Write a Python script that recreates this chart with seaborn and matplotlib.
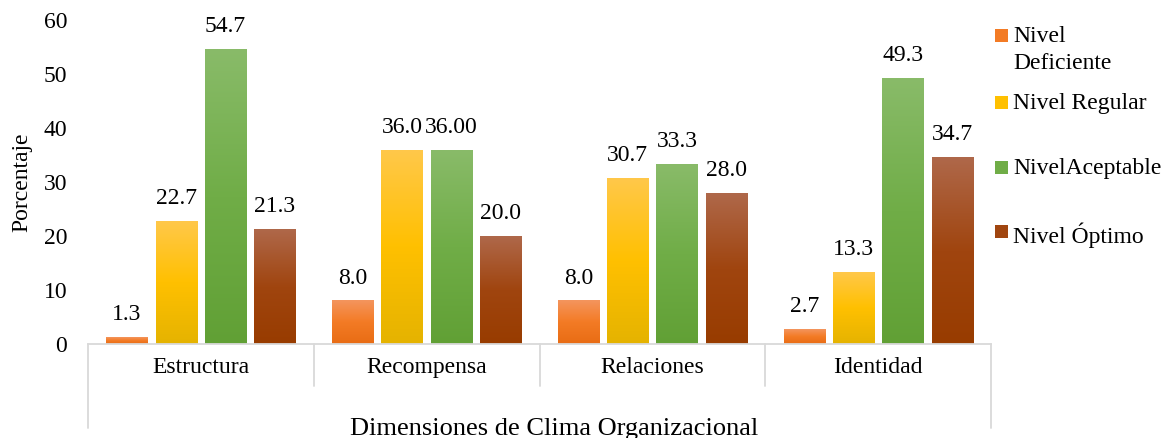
import numpy as np
import pandas as pd
import matplotlib
matplotlib.use("Agg")
import matplotlib.pyplot as plt
from matplotlib.colors import LinearSegmentedColormap
from matplotlib.patches import Rectangle
from matplotlib.transforms import blended_transform_factory
import seaborn as sns

# --- data -------------------------------------------------------------
dimensiones = ["Estructura", "Recompensa", "Relaciones", "Identidad"]
niveles = ["Nivel\nDeficiente", "Nivel Regular", "NivelAceptable", "Nivel Óptimo"]

deficiente = [1.3, 8.0, 8.0, 2.7]
regular = [22.7, 36.0, 30.7, 13.3]
aceptable = [54.7, 36.0, 33.3, 49.3]
optimo = [21.3, 20.0, 28.0, 34.7]

etiquetas = [
    ["1.3", "8.0", "8.0", "2.7"],
    ["22.7", "36.0", "30.7", "13.3"],
    ["54.7", "36.00", "33.3", "49.3"],
    ["21.3", "20.0", "28.0", "34.7"],
]

y_ticks = [0, 10, 20, 30, 40, 50, 60]

# gradient stops per series: (bottom, middle, top)
gradientes = [
    ("#E86C14", "#F37B25", "#F4955E"),
    ("#E5B300", "#FFC000", "#FFC84A"),
    ("#61A035", "#70AD47", "#89BB69"),
    ("#983C00", "#A0450F", "#AF684A"),
]

df = pd.DataFrame({
    "Dimension": np.tile(dimensiones, len(niveles)),
    "Nivel": np.repeat(niveles, len(dimensiones)),
    "Porcentaje": deficiente + regular + aceptable + optimo,
})

# --- style ------------------------------------------------------------
sns.set_theme(style="white")
plt.rcParams["font.family"] = ["Liberation Serif", "DejaVu Serif"]
plt.rcParams["text.color"] = "#000000"

W, H = 1165, 438
fig = plt.figure(figsize=(W / 100, H / 100), dpi=100)
fig.patch.set_facecolor("white")
ax = fig.add_axes([88 / W, 1 - 343.5 / H, (991 - 88) / W, (343.5 - 20.5) / H])

sns.barplot(
    data=df, x="Dimension", y="Porcentaje", hue="Nivel",
    order=dimensiones, hue_order=niveles,
    palette=[g[1] for g in gradientes],
    width=0.874, gap=0.167, errorbar=None, legend=False, ax=ax,
)

# vertical gradient fill inside every bar
grad = np.linspace(0, 1, 256).reshape(-1, 1)
for cont, stops in zip(ax.containers, gradientes):
    cmap = LinearSegmentedColormap.from_list("g", list(stops))
    for bar in cont:
        x0, y0 = bar.get_x(), bar.get_y()
        w, h = bar.get_width(), bar.get_height()
        im = ax.imshow(grad, cmap=cmap, origin="lower", aspect="auto",
                       extent=[x0, x0 + w, y0, y0 + h], zorder=bar.get_zorder() + 0.1,
                       interpolation="bilinear")
        im.set_clip_path(bar)
        bar.set_facecolor("none")
        bar.set_edgecolor("none")

for cont, labs in zip(ax.containers, etiquetas):
    ax.bar_label(cont, labels=labs, padding=8.5, fontsize=17, color="black")

ax.set_xlim(-0.5, 3.5)
ax.set_ylim(0, 60)
ax.set_yticks(y_ticks)
ax.set_yticklabels([str(t) for t in y_ticks])

for s in ["top", "right", "left"]:
    ax.spines[s].set_visible(False)
ax.spines["bottom"].set_color("#D9D9D9")
ax.spines["bottom"].set_linewidth(1.3)
ax.tick_params(axis="y", length=0, pad=15, labelsize=17, labelcolor="black")
ax.tick_params(axis="x", length=0, pad=10, labelsize=17, labelcolor="black")
ax.grid(False)

# category divider lines below the axis
trans = blended_transform_factory(ax.transData, ax.transAxes)
limites = np.arange(len(dimensiones) + 1) - 0.5
for b in limites:
    depth = 0.262 if b in (limites[0], limites[-1]) else 0.132
    ax.plot([b, b], [0, -depth], transform=trans, clip_on=False,
            color="#D9D9D9", lw=1.3, zorder=0)

ax.set_xlabel("")
ax.set_ylabel("Porcentaje", fontsize=17, color="black")
ax.yaxis.label.set_va("center")
ax.yaxis.set_label_coords((22 - 88) / (991 - 88), 0.5)

fig.text(554 / W, 1 - 435 / H, "Dimensiones de Clima Organizacional",
         fontsize=19, ha="center", va="baseline", color="black")

# legend: swatch aligned with the first line of each entry
leg_y = [35.5, 102, 167, 232]
for name, stops, yc in zip(niveles, gradientes, leg_y):
    fig.add_artist(Rectangle((995 / W, 1 - (yc + 6.5) / H), 13 / W, 13 / H,
                             transform=fig.transFigure, facecolor=stops[1],
                             edgecolor="none"))
    top_px = yc - 9
    fig.text(1013 / W, 1 - top_px / H, name, fontsize=17, ha="left",
             va="top", color="black", linespacing=1.34)

fig.savefig("out.png", dpi=100, facecolor="white")
